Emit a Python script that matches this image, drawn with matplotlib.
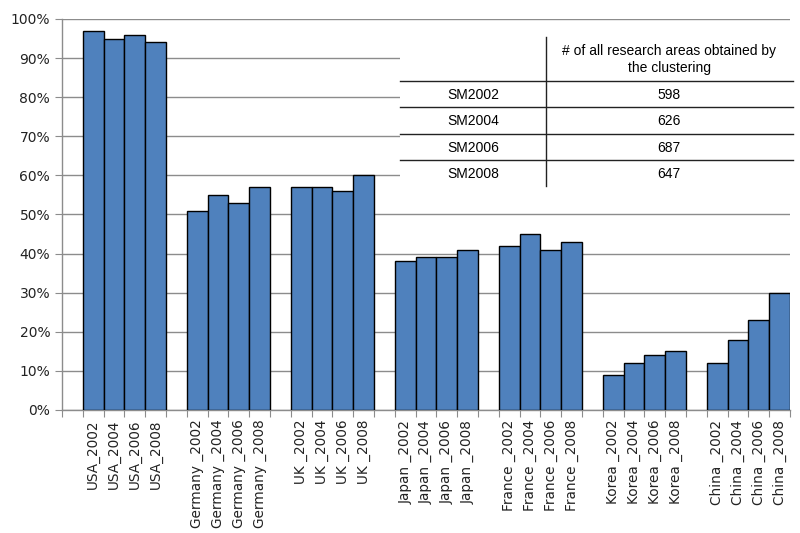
import numpy as np
import matplotlib
matplotlib.use("Agg")
import matplotlib.pyplot as plt
from matplotlib.patches import Rectangle
from matplotlib.lines import Line2D

# data
countries = ["USA", "Germany ", "UK ", "Japan ", "France ", "Korea ", "China "]
years = ["2002", "2004", "2006", "2008"]
usa = [97, 95, 96, 94]
germany = [51, 55, 53, 57]
uk = [57, 57, 56, 60]
japan = [38, 39, 39, 41]
france = [42, 45, 41, 43]
korea = [9, 12, 14, 15]
china = [12, 18, 23, 30]
shares = [usa, germany, uk, japan, france, korea, china]

table_rows = ["SM2002", "SM2004", "SM2006", "SM2008"]
table_counts = [598, 626, 687, 647]
table_header = "# of all research areas obtained by\nthe clustering"

plt.rcParams['font.family'] = ['DejaVu Sans']
fig = plt.figure(figsize=(8, 5.33), dpi=100)
ax = fig.add_axes([0.0775, 0.2308, 0.91, 0.7336])

# one blank slot before each country group
n_slots = len(countries) * 5
pos, vals, labels = [], [], []
for g, (c, v) in enumerate(zip(countries, shares)):
    for j, y in enumerate(years):
        pos.append(g * 5 + 1 + j + 0.5)
        vals.append(v[j])
        labels.append(c + "_" + y)

ax.bar(pos, vals, width=1.0, color="#4F81BD", edgecolor="black", linewidth=1.0, zorder=3)

ax.set_xlim(0, n_slots)
ax.set_ylim(0, 100)
ax.set_yticks(np.arange(0, 101, 10))
ax.set_yticklabels([f"{t}%" for t in range(0, 101, 10)], fontsize=10, color="#222222")
ax.yaxis.grid(True, color="#8c8c8c", linewidth=1.0, zorder=0)

ax.set_xticks(np.arange(0, n_slots + 1))
ax.set_xticklabels([])
ax.set_xticks(pos, minor=True)
ax.set_xticklabels(labels, minor=True, rotation=90, fontsize=9.8, va="top", ha="center", color="#222222")
ax.tick_params(axis="x", which="major", length=5, color="#8c8c8c", direction="out")
ax.tick_params(axis="x", which="minor", length=0, pad=7)
ax.tick_params(axis="y", length=5, color="#8c8c8c", direction="out")

for s in ["top", "right"]:
    ax.spines[s].set_visible(False)
for s in ["left", "bottom"]:
    ax.spines[s].set_color("#8c8c8c")
    ax.spines[s].set_linewidth(1.0)

# table overlay in figure pixel coordinates
W, H = 800, 533
def fx(x):
    return x / W
def fy(y):
    return 1 - y / H

fig.patches.append(Rectangle((fx(400), fy(187)), fx(793) - fx(400), fy(30) - fy(187),
                             transform=fig.transFigure, facecolor="white", edgecolor="none", zorder=5))
fig.lines.append(Line2D([fx(546), fx(546)], [fy(37), fy(186)], transform=fig.transFigure,
                        color="#222222", linewidth=1.0, zorder=6))
for yl in [80.7, 107.3, 133.7, 160.3]:
    fig.lines.append(Line2D([fx(400), fx(793)], [fy(yl), fy(yl)], transform=fig.transFigure,
                            color="#222222", linewidth=1.0, zorder=6))

tfont = ['Liberation Sans', 'DejaVu Sans']
fig.text(fx(669), fy(59.5), table_header, ha="center", va="center", fontsize=10,
         family=tfont, linespacing=1.25, zorder=7)
for i, (r, n) in enumerate(zip(table_rows, table_counts)):
    yc = 95 + i * 26.3
    fig.text(fx(473), fy(yc), r, ha="center", va="center", fontsize=10, family=tfont, zorder=7)
    fig.text(fx(669), fy(yc), str(n), ha="center", va="center", fontsize=10, family=tfont, zorder=7)

fig.savefig("out.png", dpi=100)
